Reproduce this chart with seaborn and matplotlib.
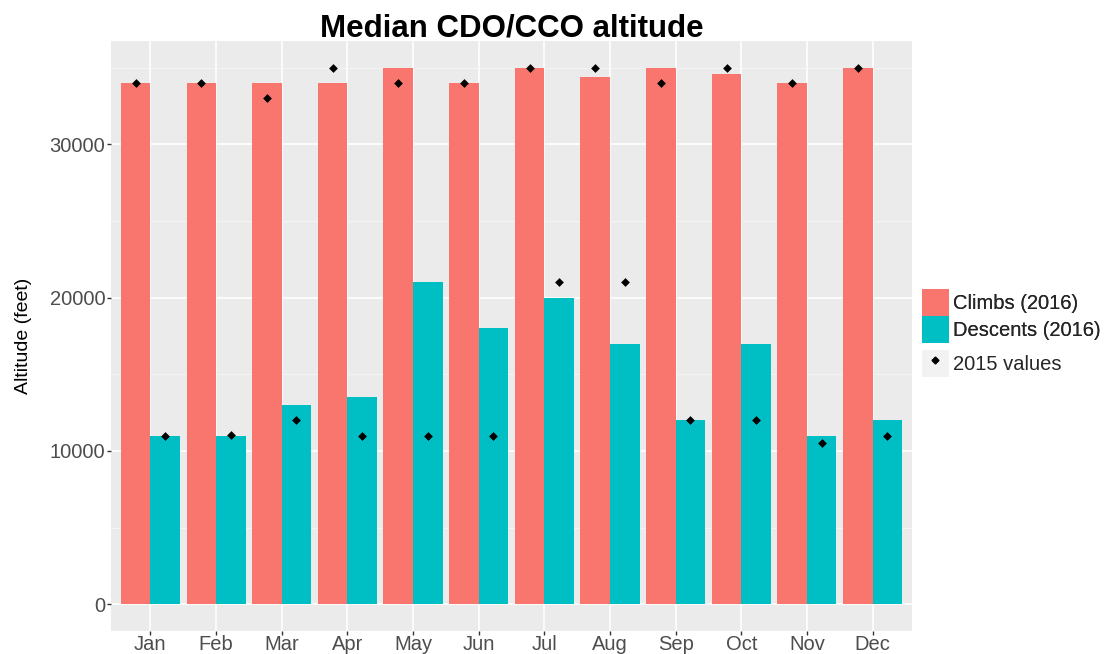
import matplotlib
matplotlib.use("Agg")
import matplotlib.pyplot as plt
import numpy as np
import pandas as pd
import seaborn as sns
from matplotlib.lines import Line2D
from matplotlib.patches import Patch
from matplotlib.legend_handler import HandlerTuple
from matplotlib.ticker import MultipleLocator

# Werte
months = ["Jan", "Feb", "Mar", "Apr", "May", "Jun",
          "Jul", "Aug", "Sep", "Oct", "Nov", "Dec"]
climbs_2016 = [34000, 34000, 34000, 34000, 35000, 34000,
               35000, 34400, 35000, 34600, 34000, 35000]
descents_2016 = [11000, 11000, 13000, 13500, 21000, 18000,
                 20000, 17000, 12000, 17000, 11000, 12000]
climbs_2015 = [34000, 34000, 33000, 35000, 34000, 34000,
               35000, 35000, 34000, 35000, 34000, 35000]
descents_2015 = [11000, 11050, 12000, 11000, 11000, 11000,
                 21000, 21000, 12000, 12050, 10500, 11000]
series_names = ["Climbs (2016)", "Descents (2016)"]

RED = "#F8766D"
CYAN = "#00BFC4"
PANEL = "#EBEBEB"

df = pd.DataFrame({
    "month": months * 2,
    "altitude": climbs_2016 + descents_2016,
    "series": [series_names[0]] * 12 + [series_names[1]] * 12,
})

sns.set_theme(style="darkgrid")
plt.rcParams["font.family"] = ["Liberation Sans", "DejaVu Sans"]

fig = plt.figure(figsize=(11.05, 6.54), dpi=100)
ax = fig.add_axes([111 / 1105, 1 - 631 / 654, (912 - 111) / 1105, (631 - 41) / 654])
ax.set_facecolor(PANEL)

sns.barplot(data=df, x="month", y="altitude", hue="series", order=months,
            palette=[RED, CYAN], width=0.9, saturation=1, gap=0,
            errorbar=None, legend=False, ax=ax, zorder=2)
for bar in ax.patches:
    bar.set_edgecolor("none")

# 2015-Punkte an den Balkenmitten (gedodged)
idx = np.arange(len(months))
sns.scatterplot(x=np.concatenate([idx - 0.225, idx + 0.225]),
                y=climbs_2015 + descents_2015,
                marker="D", color="black", s=20, linewidth=0,
                legend=False, ax=ax, zorder=3)

ax.set_xlim(-0.6, 11.6)
ax.set_ylim(-1750, 36750)
ax.yaxis.set_major_locator(MultipleLocator(10000))
ax.yaxis.set_minor_locator(MultipleLocator(5000))
ax.set_xticks(idx)
ax.set_xticklabels(months)

ax.grid(which="major", color="white", linewidth=1.2, zorder=0)
ax.grid(which="minor", axis="y", color="#F5F5F5", linewidth=0.7, zorder=0)
ax.set_axisbelow(True)
for s in ax.spines.values():
    s.set_visible(False)

ax.tick_params(axis="both", which="major", length=3, width=1, color="#333333",
               labelcolor="#4D4D4D", labelsize=14.5, left=True, bottom=True)
ax.tick_params(axis="x", which="major", pad=0)
ax.tick_params(axis="y", which="major", pad=1)
ax.tick_params(axis="y", which="minor", length=0)

ax.set_xlabel("")
ax.set_ylabel("Altitude (feet)", fontsize=14, color="black", labelpad=13)
ax.set_title("Median CDO/CCO altitude", fontsize=22.5, fontweight="bold",
             color="black", pad=3)

# Legende wie bei ggplot
bar_handles = [Patch(facecolor=RED, edgecolor="none"),
               Patch(facecolor=CYAN, edgecolor="none")]
leg1 = fig.legend(bar_handles, series_names, loc="upper left",
                  bbox_to_anchor=(922 / 1105, 1 - 289 / 654), frameon=False,
                  fontsize=14.5, handlelength=1.34, handleheight=1.68,
                  labelspacing=0, handletextpad=0.2, borderpad=0, borderaxespad=0)
pt_handle = (Patch(facecolor="#F2F2F2", edgecolor="none"),
             Line2D([], [], marker="D", color="black", linestyle="none", markersize=3.5))
fig.legend([pt_handle], ["2015 values"], loc="upper left",
           bbox_to_anchor=(922 / 1105, 1 - 350 / 654), frameon=False,
           fontsize=14.5, handlelength=1.34, handleheight=1.68,
           handletextpad=0.2, borderpad=0, borderaxespad=0,
           handler_map={tuple: HandlerTuple(ndivide=1, pad=0)})
fig.add_artist(leg1)

fig.savefig("out.png", dpi=100, facecolor="white")
